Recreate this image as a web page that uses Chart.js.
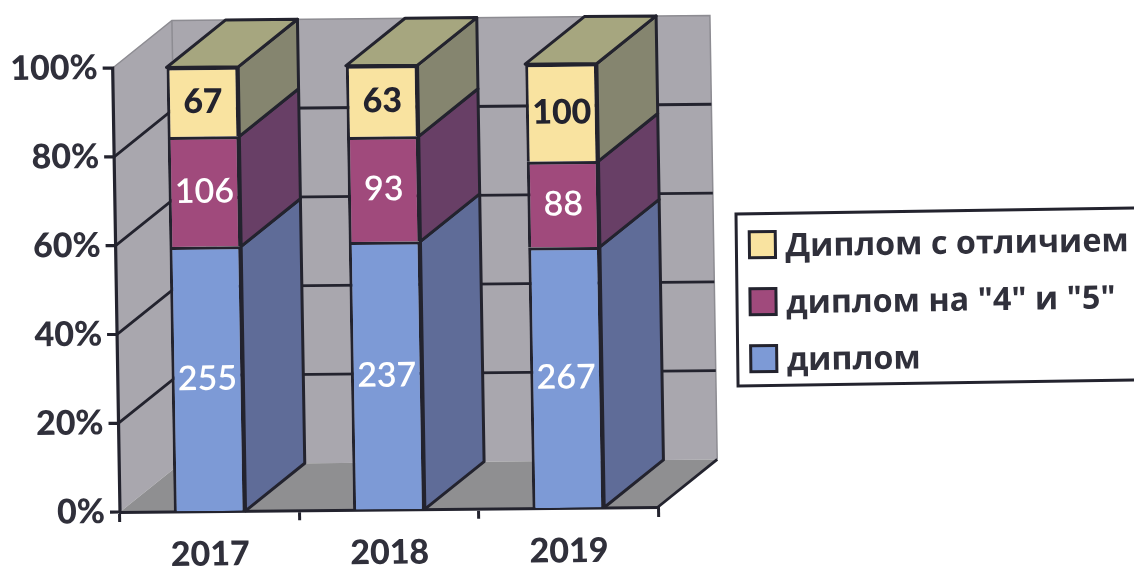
<!DOCTYPE html>
<html>
<head>
<meta charset="utf-8">
<style>
  html, body { margin: 0; padding: 0; background: #fff; overflow: hidden; }
  canvas { display: block; filter: blur(0.4px); }
</style>
<script src="https://cdn.jsdelivr.net/npm/chart.js@4"></script>
</head>
<body>
<canvas id="diplomaChart" width="1134" height="568"></canvas>
<script>
const years = ['2017', '2018', '2019'];
const plainDiploma = [255, 237, 267];
const goodDiploma = [106, 93, 88];
const honoursDiploma = [67, 63, 100];
const yTicks = [0, 20, 40, 60, 80, 100];

const totals = years.map((y, i) => plainDiploma[i] + goodDiploma[i] + honoursDiploma[i]);
const toPercent = arr => arr.map((v, i) => v / totals[i] * 100);

const ink = '#23232e';
const textInk = '#30303b';
const numFont = 'Lato, "Open Sans", sans-serif';
const depthX = 60;
const depthY = -47;

const seriesList = [
  { label: 'диплом', counts: plainDiploma, front: '#7d9ad6', side: '#5f6c98', top: '#5f6c98', text: '#fff', weight: '600' },
  { label: 'диплом на "4" и "5"', counts: goodDiploma, front: '#a04a7c', side: '#683f66', top: '#683f66', text: '#fff', weight: '600' },
  { label: 'Диплом с отличием', counts: honoursDiploma, front: '#f9e3a0', side: '#85856f', top: '#a6a67f', text: ink, weight: '900' }
];

function poly(ctx, pts, fill, stroke, lw) {
  ctx.beginPath();
  pts.forEach((p, i) => i ? ctx.lineTo(p[0], p[1]) : ctx.moveTo(p[0], p[1]));
  ctx.closePath();
  if (fill) { ctx.fillStyle = fill; ctx.fill(); }
  if (stroke) { ctx.strokeStyle = stroke; ctx.lineWidth = lw; ctx.lineJoin = 'round'; ctx.stroke(); }
}

const box3d = {
  id: 'box3d',
  beforeDraw(chart) {
    const ctx = chart.ctx;
    const { left, right, top, bottom } = chart.chartArea;
    // the scan sits slightly crooked
    ctx.save();
    ctx.translate(left, bottom);
    ctx.transform(1, -0.0093, 0.0165, 1, 0, 0);
    ctx.translate(-left, -bottom);

    // walls and floor
    poly(ctx, [[left, bottom], [left, top], [left + depthX, top + depthY], [left + depthX, bottom + depthY]], '#a9a7ae');
    poly(ctx, [[left + depthX, bottom + depthY], [left + depthX, top + depthY], [right + depthX, top + depthY], [right + depthX, bottom + depthY]], '#a9a7ae');
    poly(ctx, [[left, bottom], [left + depthX, bottom + depthY], [right + depthX, bottom + depthY], [right, bottom]], '#8f8f91');

    ctx.strokeStyle = '#8d8c92';
    ctx.lineWidth = 1.5;
    ctx.beginPath();
    ctx.moveTo(left, top);
    ctx.lineTo(left + depthX, top + depthY);
    ctx.lineTo(right + depthX, top + depthY);
    ctx.lineTo(right + depthX, bottom + depthY);
    ctx.moveTo(left + depthX, top + depthY);
    ctx.lineTo(left + depthX, top + depthY + 40);
    ctx.stroke();

    // wall grid
    ctx.strokeStyle = ink;
    ctx.lineWidth = 2.8;
    yTicks.filter(v => v > 0 && v < 100).forEach(v => {
      const y = chart.scales.y.getPixelForValue(v);
      ctx.beginPath();
      ctx.moveTo(left, y);
      ctx.lineTo(left + depthX, y + depthY);
      ctx.lineTo(right + depthX, y + depthY);
      ctx.stroke();
    });
    // front edge of the floor
    ctx.beginPath();
    ctx.moveTo(right, bottom);
    ctx.lineTo(right + depthX, bottom + depthY);
    ctx.stroke();
  },
  afterDatasetsDraw(chart) {
    const ctx = chart.ctx;
    const lw = 3;

    // side and top faces
    seriesList.forEach((s, di) => {
      chart.getDatasetMeta(di).data.forEach(bar => {
        const l = bar.x - bar.width / 2, r = bar.x + bar.width / 2;
        poly(ctx, [[r, bar.y], [r + depthX, bar.y + depthY], [r + depthX, bar.base + depthY], [r, bar.base]], s.side, ink, lw);
        if (di === seriesList.length - 1) {
          poly(ctx, [[l, bar.y], [l + depthX, bar.y + depthY], [r + depthX, bar.y + depthY], [r, bar.y]], s.top, ink, lw);
        }
      });
    });
    // value labels
    ctx.textAlign = 'center';
    ctx.textBaseline = 'middle';
    seriesList.forEach((s, di) => {
      chart.getDatasetMeta(di).data.forEach((bar, i) => {
        const c = bar.getCenterPoint();
        ctx.fillStyle = s.text;
        ctx.font = s.weight + ' 34px ' + numFont;
        ctx.fillText(String(s.counts[i]), c.x, c.y);
      });
    });
  },
  afterDraw(chart) {
    const ctx = chart.ctx;
    const { left, top, bottom } = chart.chartArea;

    // value axis line and ticks
    ctx.strokeStyle = '#000000';
    ctx.globalAlpha = 1;
    ctx.lineWidth = 3.2;
    ctx.lineCap = 'butt';
    ctx.beginPath();
    ctx.moveTo(left, top - 1.5);
    ctx.lineTo(left, bottom + 1.5);
    yTicks.forEach(v => {
      const y = chart.scales.y.getPixelForValue(v);
      ctx.moveTo(left - 10, y);
      ctx.lineTo(left, y);
    });
    ctx.strokeStyle = ink;
    ctx.stroke();

    ctx.restore();

    // legend
    ctx.save();
    ctx.translate(736, 214);
    ctx.transform(1, -0.015, 0.012, 1, 0, 0);
    ctx.strokeStyle = ink;
    ctx.lineWidth = 3;
    ctx.strokeRect(0, 0, 430, 172);
    ctx.textAlign = 'left';
    ctx.textBaseline = 'alphabetic';
    ctx.font = 'bold 32.3px "Open Sans", sans-serif';
    [...seriesList].reverse().forEach((s, i) => {
      const rowY = 18 + i * 57;
      ctx.fillStyle = s.front;
      ctx.fillRect(13, rowY, 26, 26);
      ctx.strokeStyle = ink;
      ctx.strokeRect(13, rowY, 26, 26);
      ctx.fillStyle = textInk;
      ctx.fillText(s.label, 49, rowY + 25);
    });
    ctx.restore();
  }
};

new Chart(document.getElementById('diplomaChart'), {
  type: 'bar',
  data: {
    labels: years,
    datasets: seriesList.map(s => ({
      label: s.label,
      data: toPercent(s.counts),
      backgroundColor: s.front,
      borderColor: ink,
      borderWidth: 3,
      borderSkipped: 'bottom',
      categoryPercentage: 1,
      barPercentage: 0.4
    }))
  },
  plugins: [box3d],
  options: {
    responsive: false,
    animation: false,
    layout: { padding: { top: 68, right: 476, left: 0, bottom: 0 } },
    plugins: {
      legend: { display: false },
      tooltip: { enabled: false }
    },
    scales: {
      x: {
        stacked: true,
        afterFit: s => { s.height = 56; },
        border: { color: ink, width: 3 },
        grid: { drawOnChartArea: false, color: ink, lineWidth: 3, tickLength: 10 },
        ticks: { color: textInk, padding: 13, maxRotation: 0, font: { family: numFont, size: 34, weight: '900' } }
      },
      y: {
        stacked: true,
        min: 0,
        max: 100,
        afterFit: s => { s.width = 120; },
        afterBuildTicks: s => { s.ticks = yTicks.map(v => ({ value: v })); },
        border: { display: false },
        grid: { display: false, drawTicks: false, tickLength: 10 },
        ticks: { color: textInk, padding: 15, callback: v => v + '%', font: { family: numFont, size: 34, weight: '900' } }
      }
    }
  }
});
</script>
</body>
</html>
